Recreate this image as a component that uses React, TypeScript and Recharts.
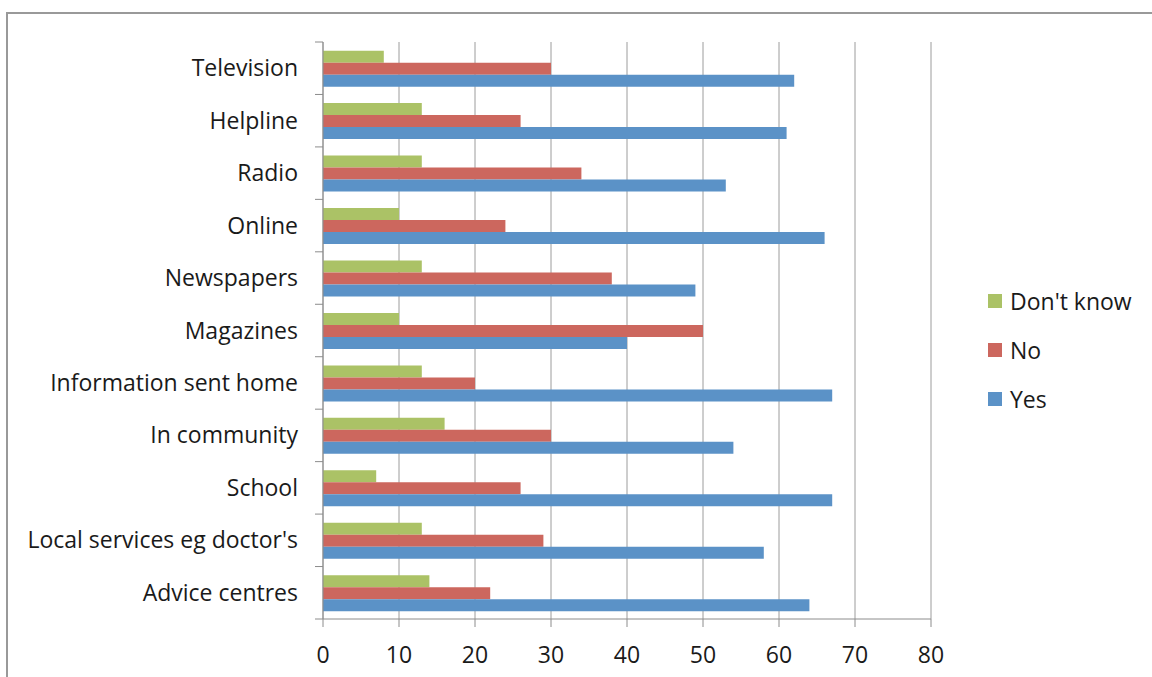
import React from "react";
import {
  BarChart,
  Bar,
  XAxis,
  YAxis,
  CartesianGrid,
  Legend,
} from "recharts";

// Where people would look for information, top to bottom
const categories = [
  "Television",
  "Helpline",
  "Radio",
  "Online",
  "Newspapers",
  "Magazines",
  "Information sent home",
  "In community",
  "School",
  "Local services eg doctor's",
  "Advice centres",
];

const dontKnow = [8, 13, 13, 10, 13, 10, 13, 16, 7, 13, 14];
const no = [30, 26, 34, 24, 38, 50, 20, 30, 26, 29, 22];
const yes = [62, 61, 53, 66, 49, 40, 67, 54, 67, 58, 64];

const xTicks = [0, 10, 20, 30, 40, 50, 60, 70, 80];

const data = categories.map((name, i) => ({
  name,
  dontKnow: dontKnow[i],
  no: no[i],
  yes: yes[i],
}));

const W = 1152;
const H = 677;
const PLOT_LEFT = 323;
const PLOT_RIGHT = 931;
const PLOT_TOP = 42;
const PLOT_BOTTOM = 619;
const BAND = (PLOT_BOTTOM - PLOT_TOP) / categories.length;

const FONT = "'Open Sans', 'DejaVu Sans', sans-serif";
const AXIS = "#8c8c8c";
const GRID = "#9c9c9c";

const GREEN = "#abc266";
const RED = "#cc675e";
const BLUE = "#5b92c7";

const CategoryTick = (props: any) => {
  const { y, payload, index } = props;
  const top = y - BAND / 2;
  return (
    <g>
      <line x1={PLOT_LEFT - 8} x2={PLOT_LEFT} y1={top} y2={top} stroke={AXIS} strokeWidth={1} />
      {index === categories.length - 1 && (
        <line
          x1={PLOT_LEFT - 8}
          x2={PLOT_LEFT}
          y1={top + BAND}
          y2={top + BAND}
          stroke={AXIS}
          strokeWidth={1}
        />
      )}
      <text
        x={298}
        y={y}
        dy="0.35em"
        textAnchor="end"
        fontFamily={FONT}
        fontSize={23}
        fill="#1a1a1a"
      >
        {payload.value}
      </text>
    </g>
  );
};

const LegendList = () => {
  const items = [
    { label: "Don't know", color: GREEN },
    { label: "No", color: RED },
    { label: "Yes", color: BLUE },
  ];
  return (
    <div style={{ fontFamily: FONT, fontSize: 23, color: "#1a1a1a" }}>
      {items.map((it) => (
        <div
          key={it.label}
          style={{ display: "flex", alignItems: "center", height: 49 }}
        >
          <span
            style={{
              display: "inline-block",
              width: 14,
              height: 14,
              background: it.color,
              marginRight: 8,
            }}
          />
          <span>{it.label}</span>
        </div>
      ))}
    </div>
  );
};

export default function App() {
  return (
    <div
      style={{
        position: "fixed",
        left: 0,
        top: 0,
        width: W,
        height: H,
        overflow: "hidden",
        background: "#ffffff",
      }}
    >
      <div
        style={{
          position: "absolute",
          left: 6,
          top: 12,
          width: W + 40,
          height: H + 40,
          border: "2px solid #999999",
          boxSizing: "border-box",
        }}
      />
      <div style={{ position: "absolute", left: 0, top: 0 }}>
        <BarChart
          width={W}
          height={H}
          data={data}
          layout="vertical"
          margin={{ top: PLOT_TOP, right: W - PLOT_RIGHT, bottom: 0, left: 0 }}
          barCategoryGap="16.5%"
          barGap={0}
        >
          <CartesianGrid horizontal={false} stroke={GRID} strokeWidth={1} />
          <XAxis
            type="number"
            domain={[0, 80]}
            ticks={xTicks}
            interval={0}
            height={H - PLOT_BOTTOM}
            stroke={AXIS}
            tickSize={8}
            tickMargin={20}
            tick={{ fontFamily: FONT, fontSize: 23, fill: "#1a1a1a" }}
          />
          <YAxis
            type="category"
            dataKey="name"
            width={PLOT_LEFT}
            stroke={AXIS}
            tickLine={false}
            interval={0}
            tick={<CategoryTick />}
          />
          <Legend
            layout="horizontal"
            verticalAlign="middle"
            align="center"
            content={<LegendList />}
            wrapperStyle={{ position: "absolute", left: 988, top: 276, width: 164 }}
          />
          <Bar dataKey="dontKnow" name="Don't know" fill={GREEN} isAnimationActive={false} />
          <Bar dataKey="no" name="No" fill={RED} isAnimationActive={false} />
          <Bar dataKey="yes" name="Yes" fill={BLUE} isAnimationActive={false} />
        </BarChart>
      </div>
    </div>
  );
}
